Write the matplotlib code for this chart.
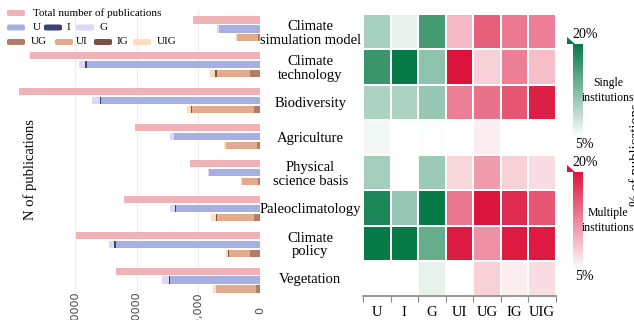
import matplotlib
matplotlib.use("Agg")
import matplotlib.pyplot as plt
import numpy as np
from matplotlib.colors import LinearSegmentedColormap
from matplotlib.patches import FancyBboxPatch, Polygon
from matplotlib.cm import ScalarMappable
from matplotlib.colors import Normalize

# ---- data -------------------------------------------------------------
categories = ["Climate\nsimulation model", "Climate\ntechnology", "Biodiversity",
              "Agriculture", "Physical\nscience basis", "Paleoclimatology",
              "Climate\npolicy", "Vegetation"]

total = [10860, 37280, 39060, 20260, 11340, 22040, 29820, 23340]
n_U = [6640, 28040, 25770, 13940, 8260, 13610, 23340, 14590]
n_I = [0, 320, 200, 0, 0, 150, 320, 100]
n_G = [300, 970, 1300, 650, 150, 810, 810, 1130]
n_UG = [300, 1620, 970, 490, 300, 970, 1620, 650]
n_UI = [3400, 5350, 10050, 5020, 2600, 6000, 3400, 6480]
n_IG = [0, 300, 200, 0, 0, 100, 100, 0]
n_UIG = [150, 900, 650, 250, 100, 810, 320, 490]

bar_ticks = [30000, 20000, 10000, 0]
bar_ticklabels = ["3,0000", "2,0000", "10,000", "0"]

single_cols = ["U", "I", "G"]
multi_cols = ["UI", "UG", "IG", "UIG"]
# % of publications per topic (rows follow categories)
pct_single = [[10.3, 6.5, 16.3],
              [17.0, 20.0, 11.8],
              [10.0, 10.0, 11.3],
              [5.8, 5.0, 5.2],
              [10.5, 5.0, 11.0],
              [18.5, 11.3, 20.0],
              [20.0, 20.0, 14.3],
              [5.0, 5.0, 6.5]]
pct_multi = [[9.5, 15.2, 13.5, 13.2],
             [20.0, 8.0, 13.2, 9.2],
             [13.2, 14.0, 15.8, 19.2],
             [5.0, 6.2, 5.0, 5.0],
             [7.7, 11.3, 8.0, 7.2],
             [13.7, 20.0, 18.5, 15.8],
             [19.5, 12.0, 19.5, 19.5],
             [5.0, 8.0, 6.2, 7.2]]

colors = {"Total": "#efb3b7", "U": "#a5afe2", "I": "#3b4376", "G": "#dcd8f6",
          "UG": "#b27d66", "UI": "#e3ab8d", "IG": "#7a5045", "UIG": "#fddcbd"}

serif = "Liberation Serif"
W, H = 634, 320


def fx(px):
    return px / W


def fy(py):
    return 1 - py / H


fig = plt.figure(figsize=(W / 100, H / 100), dpi=100)

# ---- left: horizontal bars ---------------------------------------------
axb = fig.add_axes([0, fy(298), fx(260), (298 - 11) / H])
y = np.arange(len(categories))
bh = 0.2
off = 0.25
axb.barh(y - off, total, height=bh, color=colors["Total"])

left = np.zeros(len(y))
for key, vals in [("U", n_U), ("I", n_I), ("G", n_G)]:
    axb.barh(y, vals, left=left, height=bh, color=colors[key])
    left = left + np.array(vals)

left = np.zeros(len(y))
for key, vals in [("UG", n_UG), ("UI", n_UI), ("IG", n_IG), ("UIG", n_UIG)]:
    axb.barh(y + off, vals, left=left, height=bh, color=colors[key])
    left = left + np.array(vals)

axb.set_xlim(42140, 0)
axb.set_ylim(len(y) - 0.5, -0.5)
axb.set_yticks([])
axb.set_xticks(bar_ticks)
axb.set_xticklabels(bar_ticklabels, rotation=90, va="center", ha="center",
                    fontsize=8, color="#444444")
axb.tick_params(axis="x", length=0, pad=9)
axb.grid(axis="x", color="#ebebf3", lw=0.8)
axb.set_axisbelow(True)
for s in axb.spines.values():
    s.set_visible(False)

fig.text(fx(30), fy(170), "N of publications", rotation=90, ha="center",
         va="center", fontsize=10.5, family=serif)

# legend drawn by hand (rounded swatches)
legend_items = [("Total number of publications", "Total", 7, 13, 33),
                ("U", "U", 7, 27.5, 33), ("I", "I", 44, 27.5, 67),
                ("G", "G", 76, 27.5, 100),
                ("UG", "UG", 7, 42, 31), ("UI", "UI", 55, 42, 76),
                ("IG", "IG", 94, 42, 117), ("UIG", "UIG", 133, 42, 157)]
for label, key, px, py, tx in legend_items:
    fig.patches.append(FancyBboxPatch((fx(px), fy(py + 3)), fx(18), 6 / H,
                                      boxstyle="round,pad=0,rounding_size=0.004",
                                      transform=fig.transFigure,
                                      facecolor=colors[key], edgecolor="none"))
    fig.text(fx(tx), fy(py), label, ha="left", va="center", fontsize=8,
             family=serif)

# ---- right: heatmap ----------------------------------------------------
axh = fig.add_axes([fx(363), fy(296), fx(556 - 363), (296 - 14) / H])
cmap_g = LinearSegmentedColormap.from_list("g", ["#ffffff", "#067a47"])
cmap_r = LinearSegmentedColormap.from_list("r", ["#ffffff", "#dc143c"])
ncol = len(single_cols) + len(multi_cols)
xe = np.arange(ncol + 1)
ye = np.arange(len(categories) + 1)
g = np.full((len(categories), ncol), np.nan)
r = np.full((len(categories), ncol), np.nan)
g[:, :3] = pct_single
r[:, 3:] = pct_multi
axh.pcolormesh(xe, ye, np.ma.masked_invalid(g), cmap=cmap_g, vmin=5, vmax=20,
               edgecolor="#ffffff", linewidth=0.15)
axh.pcolormesh(xe, ye, np.ma.masked_invalid(r), cmap=cmap_r, vmin=5, vmax=20,
               edgecolor="#ffffff", linewidth=0.15)
axh.set_xlim(0, ncol)
axh.set_ylim(len(categories), 0)
axh.set_xticks(np.arange(ncol) + 0.5)
axh.set_xticklabels(single_cols + multi_cols, fontsize=10.5, family=serif)
axh.set_xticks(xe, minor=True)
axh.tick_params(axis="x", which="major", length=0, pad=7)
axh.tick_params(axis="x", which="minor", length=4, color="#888888", width=0.8)
axh.set_yticks(np.arange(len(categories)) + 0.5)
axh.set_yticklabels(categories, fontsize=10.5, family=serif, ha="center",
                    linespacing=1.05)
axh.tick_params(axis="y", length=0, pad=38)
for k, s in axh.spines.items():
    s.set_visible(k == "bottom")
axh.spines["bottom"].set_color("#888888")
axh.spines["bottom"].set_linewidth(1.2)

# ---- colorbars ---------------------------------------------------------
for cmap, top, bot, l1, l2 in [(cmap_g, 44, 138, "Single", "institutions"),
                               (cmap_r, 172, 270, "Multiple", "institutions")]:
    cax = fig.add_axes([fx(573), fy(bot), fx(10), (bot - top) / H])
    cb = fig.colorbar(ScalarMappable(Normalize(5, 20), cmap), cax=cax)
    cb.set_ticks([])
    cb.outline.set_visible(False)
    fig.patches.append(Polygon([(fx(567), fy(top - 7)), (fx(567), fy(top)),
                                (fx(575), fy(top))], closed=True,
                               transform=fig.transFigure,
                               facecolor=cmap(1.0), edgecolor="none"))
    fig.text(fx(572), fy(top - 9), "20%", ha="left", va="center",
             fontsize=10, family=serif)
    fig.text(fx(575), fy(bot + 6), "5%", ha="left", va="center",
             fontsize=10, family=serif)
    mid = top + (bot - top) * 0.42
    fig.text(fx(608), fy(mid), l1, ha="center", va="center", fontsize=8.5,
             family=serif)
    fig.text(fx(608), fy(mid + 15), l2, ha="center", va="center", fontsize=8.5,
             family=serif)

fig.text(fx(636), fy(155), "% of publications", rotation=90, ha="center",
         va="center", fontsize=10.5, family=serif)

fig.savefig("out.png", dpi=100)
